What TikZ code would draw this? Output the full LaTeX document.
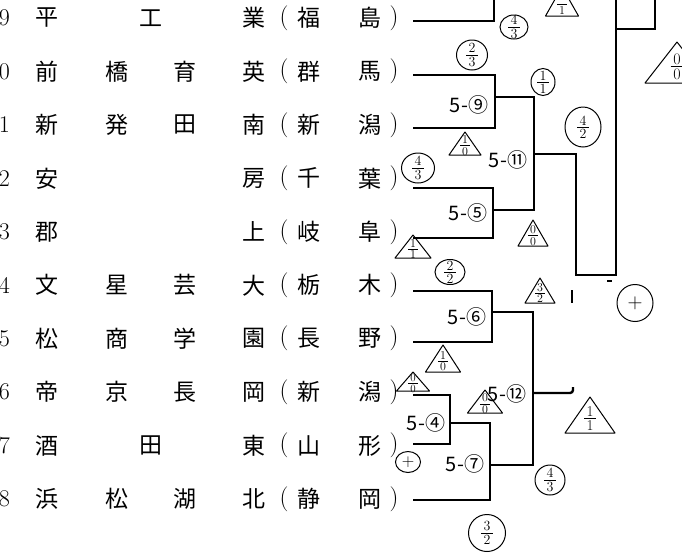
\documentclass[tikz,border=0pt]{standalone}
\usepackage{amsmath}
\usepackage{fontspec}
\usepackage{tikz}
\usetikzlibrary{shapes.geometric}
\newfontfamily\jp{Noto Sans CJK JP}

\tikzset{
	team/.style={font=\jp\fontsize{23}{23}\selectfont,inner sep=0pt},
	paren/.style={font=\fontsize{25}{25}\selectfont,inner sep=0pt},
	num/.style={font=\fontsize{24}{24}\selectfont,inner sep=0pt,anchor=east},
	game/.style={font=\jp\fontsize{20}{20}\selectfont,inner sep=0pt},
	wire/.style={line width=1.3pt},
	trace/.style={line width=2.4pt},
	ring/.style={ellipse,draw,line width=1pt,inner sep=0pt},
	hand/.style={line width=1pt,line join=round},
	frac/.style={inner sep=0pt,align=center,font=\fontsize{14}{12}\selectfont}
}

\begin{document}
\begin{tikzpicture}[x=1pt,y=-1pt]
	\path[use as bounding box,fill=white] (0,0) rectangle (682,552);
	% teams
	\foreach \no/\ca/\cb/\cm/\cc/\cd/\pa/\pb [count=\k from 0] in {
		9/平/{}/工/{}/業/福/島, 0/前/橋/{}/育/英/群/馬, 1/新/発/{}/田/南/新/潟,
		2/安/{}/{}/{}/房/千/葉, 3/郡/{}/{}/{}/上/岐/阜, 4/文/星/{}/芸/大/栃/木,
		5/松/商/{}/学/園/長/野, 6/帝/京/{}/長/岡/新/潟, 7/酒/{}/田/{}/東/山/形,
		8/浜/松/{}/湖/北/静/岡}
	{
		\pgfmathsetmacro\ty{18+53.45*\k}
		\node[num] (n\k) at (10,\ty) {\no};
		\node[team] (ca\k) at (47,\ty) {\ca};
		\node[team] (cb\k) at (117,\ty) {\cb};
		\node[team] (cm\k) at (151,\ty) {\cm};
		\node[team] (cc\k) at (185,\ty) {\cc};
		\node[team] (cd\k) at (254,\ty) {\cd};
		\node[paren] (lp\k) at (284,\ty) {(};
		\node[team] (pa\k) at (309,\ty) {\pa};
		\node[team] (pb\k) at (370,\ty) {\pb};
		\node[paren] (rp\k) at (394,\ty) {)};
	}
	\foreach \k/\ly in {0/21,1/75,2/128,3/188,4/238,5/291,6/342,7/395,8/444,9/500}
		\coordinate (l\k) at (413,\ly);
	% games
	\coordinate (g9) at (495,97);
	\coordinate (g5) at (493,210);
	\coordinate (g6) at (492,312);
	\coordinate (g4) at (450,423);
	\coordinate (g7) at (490,465);
	\coordinate (g11) at (534,154);
	\coordinate (g12) at (533,393);
	\coordinate (q1) at (576,275);
	\coordinate (q2) at (616,29);
	\coordinate (q3) at (655,0);
	\coordinate (q4) at (616,0);
	\coordinate (q5) at (573,393);
	\coordinate (q6) at (573,387);
	\coordinate (q7) at (494,0);
	\coordinate (tk1) at (572,290);
	\coordinate (tk2) at (572,303);
	\coordinate (tk3) at (607,281);
	\coordinate (tk4) at (612,281);
	\draw[wire] (l1) -| (g9) |- (l2);
	\draw[wire] (l3) -| (g5) |- (l4);
	\draw[wire] (g9) -| (g11) |- (g5);
	\draw[wire] (l5) -| (g6) |- (l6);
	\draw[wire] (l7) -| (g4) |- (l8);
	\draw[wire] (g4) -| (g7) |- (l9);
	\draw[wire] (g6) -| (g12) |- (g7);
	\draw[wire] (q2) -- (q4);
	\draw[wire] (tk1) -- (tk2);
	\draw[wire] (tk3) -- (tk4);
	% traced winners
	\draw[trace] (l0) -| (q7);
	\draw[trace] (l1) -| (g9) -| (g11);
	\draw[trace] (g11) -| (q1) -| (q2) -| (q3);
	\draw[trace] (l5) -| (g6) -| (g12) |- (g7);
	\draw[trace] (l9) -| (g7);
	\draw[trace] (g4) -| (g7);
	\draw[trace,rounded corners=3pt] (g12) -- (q5) -- (q6);
	\node[game] (s9) at (469,105) {5-⑨};
	\node[game] (s5) at (468,213) {5-⑤};
	\node[game] (s11) at (508,160) {5-⑪};
	\node[game] (s6) at (467,317) {5-⑥};
	\node[game] (s4) at (426,423) {5-④};
	\node[game] (s7) at (465,464) {5-⑦};
	\node[game] (s12) at (507,394) {5-⑫};
	% handwritten scores
	\foreach \x/\y/\w/\h/\p/\q/\fs/\bs [count=\k] in {
		562/-13/33/29/{\phantom{1}}/1/12/10, 677/42/64/41/0/0/16/14, 465/132/32/23/1/0/12/10,
		533/220/30/26/0/0/12/10, 413/235/36/23/1/1/12/10, 540/278/30/25/3/2/12/10,
		443/345/35/27/1/0/12/10, 413/372/33/19/0/0/11/9, 485/390/35/23/0/0/12/10,
		590/397/50/36/1/1/15/14}
	{
		\draw[hand] (\x,\y) -- ++(-\w/2,\h) -- ++(\w,0) -- cycle;
		\node[frac,font=\fontsize{\fs}{\bs}\selectfont] (tri\k) at (\x,\y+0.6*\h) {\underline{\,\p\,}\\\q};
	}
	\foreach \x/\y/\w/\h/\p/\q [count=\k] in {
		514/27/28/24/4/3, 472/55/31/30/2/3, 543/82/24/27/1/1, 583/127/36/40/4/2,
		418/168/33/30/4/3, 450/272/30/25/2/2, 550/480/30/30/4/3, 487/533/37/37/3/2}
	{
		\node[ring,minimum width=\w,minimum height=\h] (ring\k) at (\x,\y) {};
		\node[frac] (rf\k) at (ring\k) {\underline{\,\p\,}\\\q};
	}
	\node[ring,minimum width=36,minimum height=37,font=\fontsize{22}{22}\selectfont] (ring9) at (635,303) {$+$};
	\node[ring,minimum width=25,minimum height=21,font=\fontsize{16}{16}\selectfont] (ring10) at (408,462) {$+$};
\end{tikzpicture}
\end{document}
